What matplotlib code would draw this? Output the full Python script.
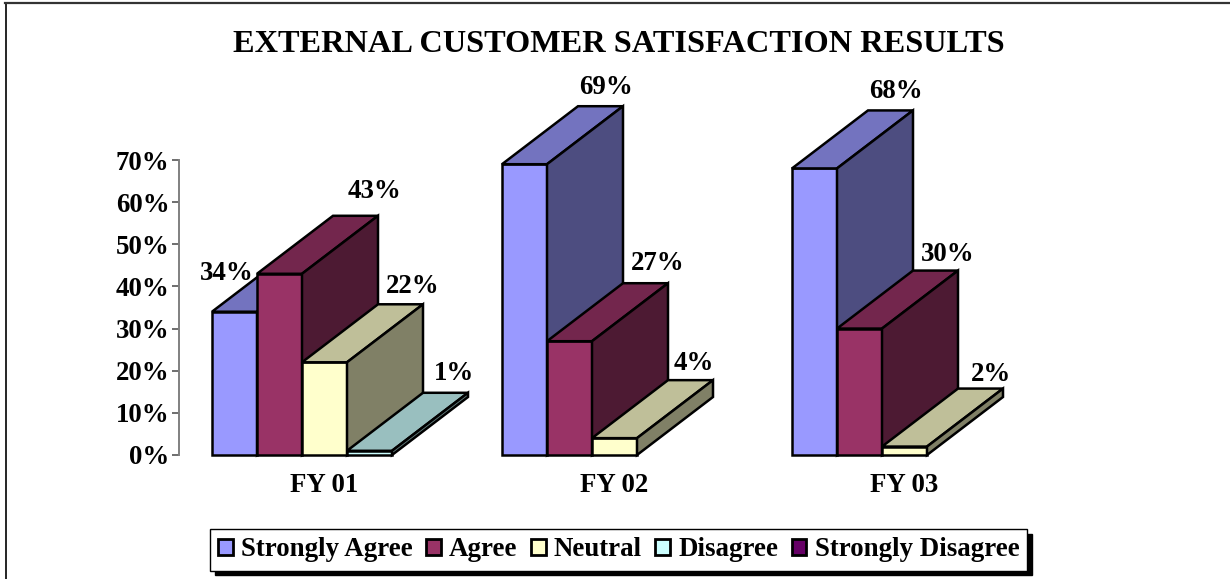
"""External customer satisfaction results as a fake-3D clustered bar chart."""

import matplotlib

matplotlib.use("Agg")

import matplotlib.pyplot as plt
from matplotlib.colors import to_rgb
from matplotlib.patches import Patch, Polygon

plt.rcParams["font.family"] = ["Liberation Serif", "DejaVu Serif"]
plt.rcParams["font.weight"] = "bold"

W, H = 1230, 579

categories = ["FY 01", "FY 02", "FY 03"]
series_names = ["Strongly Agree", "Agree", "Neutral", "Disagree", "Strongly Disagree"]
strongly_agree = [34, 69, 68]
agree = [43, 27, 30]
neutral = [22, 4, 2]
disagree = [1, 0, 0]
strongly_disagree = [0, 0, 0]
series_colors = ["#9999FF", "#993366", "#FFFFCC", "#CCFFFF", "#660066"]
y_ticks = [0, 10, 20, 30, 40, 50, 60, 70]

BAR_W = 45 / 290
DEPTH_X = 76 / 290
DEPTH_Y = 58 / (295 / 70)
LW = 1.8
FONT = 19.4

# hand placement of the value labels, pixels from the bar's back top corner
LABEL_OFFSETS = {
    (0, 0): (-106, -20), (0, 1): (-4, 24), (0, 2): (-10, 18), (0, 3): (-14, 19),
    (1, 0): (-17, 19), (1, 1): (-10, 20), (1, 2): (-19, 17),
    (2, 0): (-17, 19), (2, 1): (-10, 16), (2, 2): (-12, 14),
}


def shade(color, factor):
    return tuple(c * factor for c in to_rgb(color))


def draw_bar(ax, x, value, color, label_offset):
    x1 = x + BAR_W
    dx, dy = DEPTH_X, DEPTH_Y
    style = dict(edgecolor="black", linewidth=LW, joinstyle="miter", clip_on=False)
    ax.add_patch(Polygon([(x, 0), (x1, 0), (x1, value), (x, value)], facecolor=color, **style))
    ax.add_patch(Polygon([(x, value), (x1, value), (x1 + dx, value + dy), (x + dx, value + dy)],
                         facecolor=shade(color, 0.75), **style))
    ax.add_patch(Polygon([(x1, 0), (x1 + dx, dy), (x1 + dx, value + dy), (x1, value)],
                         facecolor=shade(color, 0.5), **style))
    ax.annotate(f"{value}%", (x1 + dx, value + dy), xytext=label_offset, textcoords="offset pixels",
                ha="center", va="center", fontsize=FONT, fontweight="bold",
                annotation_clip=False, zorder=20)


def main():
    fig = plt.figure(figsize=(W / 100, H / 100), dpi=100)
    # frame around the whole picture: only the top and left edges show
    fig.add_artist(plt.Line2D([5.5 / W, 5.5 / W], [0, 1 - 3 / H], color="black", linewidth=1.2))
    fig.add_artist(plt.Line2D([5 / W, 1], [1 - 3 / H, 1 - 3 / H], color="#333333", linewidth=1.6))

    # axes box: x = category position, first group centred at pixel 324.5
    left, right = 179, 1100
    ax = fig.add_axes([left / W, 1 - 455 / H, (right - left) / W, 295 / H])
    ax.set_xlim((left - 324.5) / 290, (right - 324.5) / 290)
    ax.set_ylim(0, 70)
    ax.patch.set_visible(False)
    for side in ["top", "right", "bottom"]:
        ax.spines[side].set_visible(False)
    ax.spines["left"].set_color("#808080")
    ax.spines["left"].set_linewidth(1.4)

    ax.set_yticks(y_ticks, [f"{t}%" for t in y_ticks], fontsize=FONT, fontweight="bold")
    ax.tick_params(axis="y", length=5, width=1.2, color="#555555", pad=2)
    ax.set_xticks(range(len(categories)), categories, fontsize=FONT, fontweight="bold")
    ax.tick_params(axis="x", length=0, pad=13)

    all_series = [strongly_agree, agree, neutral, disagree, strongly_disagree]
    for i in range(len(categories)):
        for j, values in enumerate(all_series):
            if values[i] > 0:
                draw_bar(ax, i + (j - 2.5) * BAR_W, values[i], series_colors[j], LABEL_OFFSETS[(i, j)])

    fig.text(618.5 / W, 1 - 44 / H, "EXTERNAL CUSTOMER SATISFACTION RESULTS",
             ha="center", va="center", fontsize=23.3, fontweight="bold")

    handles = [Patch(facecolor=c, edgecolor="black", linewidth=2) for c in series_colors]
    fig.legend(handles, series_names, ncol=5, loc="center", bbox_to_anchor=(618.5 / W, 1 - 550 / H),
               fontsize=FONT, frameon=True, fancybox=False, edgecolor="black", framealpha=1,
               handlelength=0.55, handleheight=0.55, handletextpad=0.3, columnspacing=0.5,
               borderpad=0.3, borderaxespad=0,
               shadow={"ox": 3.5, "oy": -3.5, "facecolor": "black", "edgecolor": "black", "alpha": 1})

    fig.savefig("out.png", dpi=100)
    plt.close(fig)


if __name__ == "__main__":
    main()
